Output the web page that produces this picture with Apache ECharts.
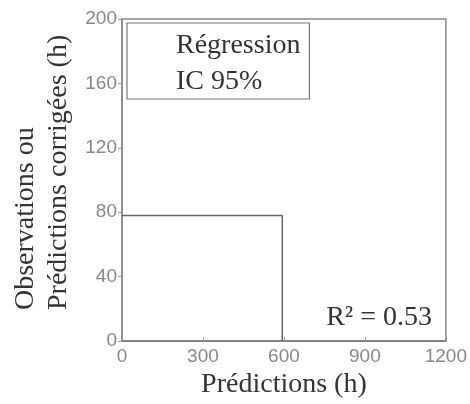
<!DOCTYPE html>
<html>
<head>
<meta charset="utf-8">
<script src="https://cdn.jsdelivr.net/npm/echarts@6/dist/echarts.min.js"></script>
<style>
  html, body { margin: 0; padding: 0; background: #fff; }
  #main { width: 470px; height: 404px; }
</style>
</head>
<body>
<div id="main"></div>
<script>
// data
var predX = [0, 594, 594];      // Prédictions (h)
var obsY = [78, 78, 0];         // Observations ou prédictions corrigées (h)
var xTicks = [0, 300, 600, 900, 1200];
var yTicks = [0, 40, 80, 120, 160, 200];
var legendNames = ['Régression', 'IC 95%'];
var r2Label = 'R² = 0.53';

var chart = echarts.init(document.getElementById('main'));

var serif = "'Liberation Serif', 'DejaVu Serif', serif";
var sans = "'Liberation Sans', Arial, sans-serif";

var option = {
  backgroundColor: '#fff',
  animation: false,

  grid: {
    left: 122,
    right: 21,
    top: 19,
    bottom: 57,
    show: true,
    borderColor: '#888',
    borderWidth: 1.5
  },

  legend: {
    data: legendNames,
    orient: 'vertical',
    left: 127,
    top: 23,
    padding: [9, 9, 3, 10],
    itemWidth: 33,
    itemHeight: 28,
    itemGap: 8,
    borderColor: '#777',
    borderWidth: 1.2,
    selectedMode: false,
    itemStyle: { opacity: 0 },
    lineStyle: { opacity: 0 },
    textStyle: { fontFamily: serif, fontSize: 28, color: '#333' }
  },

  xAxis: {
    type: 'value',
    min: xTicks[0],
    max: xTicks[xTicks.length - 1],
    interval: xTicks[1] - xTicks[0],
    name: 'Prédictions (h)',
    nameLocation: 'middle',
    nameGap: 27,
    nameTextStyle: { fontFamily: serif, fontSize: 28, color: '#333' },
    axisLine: { show: true, lineStyle: { color: '#777', width: 1.5 } },
    axisTick: { show: true, inside: true, length: 4, lineStyle: { color: '#999' } },
    axisLabel: {
      fontFamily: sans, fontSize: 19, color: '#888', margin: 6,
      formatter: function (v) { return String(v); }
    },
    splitLine: { show: false }
  },

  yAxis: {
    type: 'value',
    min: yTicks[0],
    max: yTicks[yTicks.length - 1],
    interval: yTicks[1] - yTicks[0],
    axisLine: { show: true, lineStyle: { color: '#888', width: 1.5 } },
    axisTick: { show: true, inside: false, length: 4, lineStyle: { color: '#999' } },
    axisLabel: {
      fontFamily: sans, fontSize: 19, color: '#888', margin: 5,
      formatter: function (v) { return String(v); }
    },
    splitLine: { show: false }
  },

  graphic: [
    {
      // y axis title, two lines, starting at the bottom
      type: 'text',
      x: 42,
      y: 310,
      rotation: Math.PI / 2,
      style: {
        text: 'Observations ou\nPrédictions corrigées (h)',
        font: '28px ' + serif,
        fill: '#333',
        align: 'left',
        verticalAlign: 'middle',
        lineHeight: 33
      }
    },
    {
      type: 'text',
      right: 38,
      top: 304,
      style: {
        text: r2Label,
        font: '28px ' + serif,
        fill: '#333'
      }
    }
  ],

  series: [
    {
      name: legendNames[0],
      type: 'line',
      data: predX.map(function (x, i) { return [x, obsY[i]]; }),
      symbol: 'none',
      lineStyle: { color: '#666', width: 1.5 },
      itemStyle: { color: '#666' }
    },
    {
      name: legendNames[1],
      type: 'line',
      data: [],
      symbol: 'none',
      lineStyle: { color: '#666', width: 1.5 },
      itemStyle: { color: '#666' }
    }
  ]
};

chart.setOption(option);
</script>
</body>
</html>
